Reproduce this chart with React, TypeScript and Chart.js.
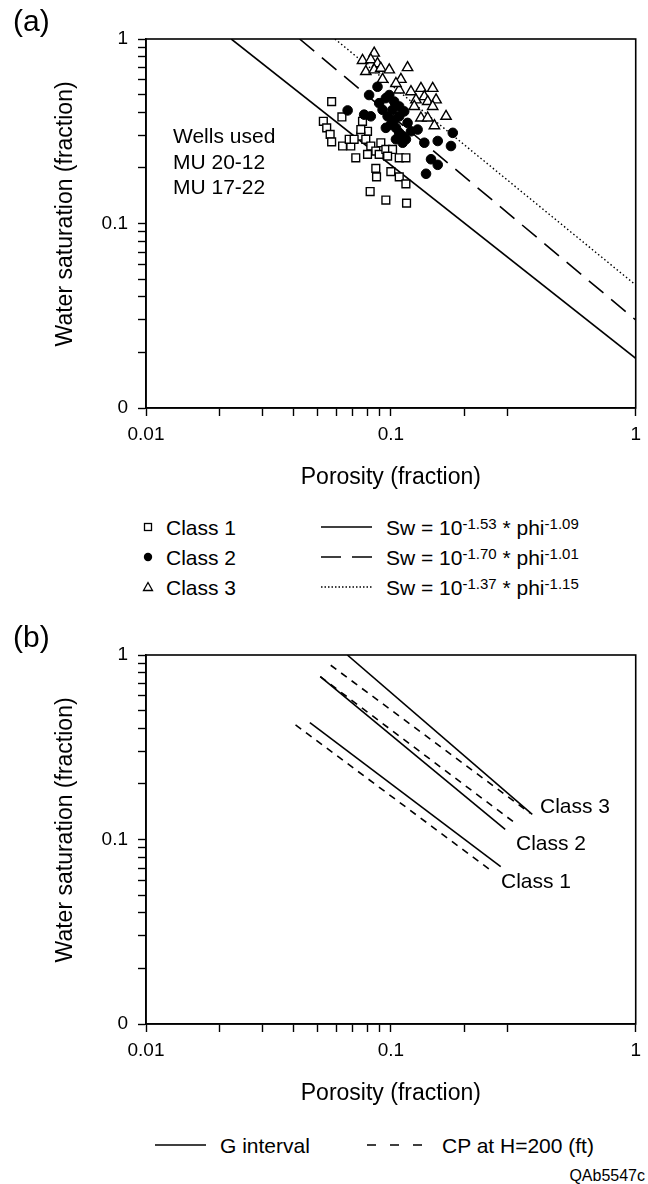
import React, { useEffect, useRef } from 'react';
import { Chart, registerables } from 'chart.js';

Chart.register(...registerables);

const FONT = "'Liberation Sans', Arial, Helvetica, sans-serif";

// ---------- axes ----------
const X_TICKS = [0.01, 0.02, 0.03, 0.04, 0.05, 0.06, 0.07, 0.08, 0.09, 0.1, 0.2, 0.3, 1];
const Y_TICKS = [0.01, 0.02, 0.03, 0.04, 0.05, 0.06, 0.07, 0.08, 0.09, 0.1, 0.2, 0.3, 0.4, 0.5, 0.6, 0.7, 0.8, 0.9, 1];
const X_LABEL_VALUES = [0.01, 0.1, 1];
const X_LABEL_TEXT = ['0.01', '0.1', '1'];
const Y_LABEL_VALUES = [0.01, 0.1, 1];
const Y_LABEL_TEXT = ['0', '0.1', '1'];

// ---------- panel (a) scatter ----------
const CLASS1_PHI = [0.0573, 0.0631, 0.053, 0.0547, 0.0565, 0.0573, 0.0635, 0.0686, 0.0676, 0.0719, 0.0766, 0.0803, 0.0754, 0.079, 0.0828, 0.0868, 0.091, 0.0896, 0.0803, 0.0954, 0.0868, 0.0874, 0.1, 0.1082, 0.1152, 0.0823, 0.0954, 0.1159, 0.1082, 0.1152, 0.1016, 0.0754, 0.0708, 0.097];
const CLASS1_SW = [0.458, 0.378, 0.358, 0.33, 0.304, 0.277, 0.263, 0.263, 0.286, 0.227, 0.358, 0.316, 0.298, 0.286, 0.263, 0.247, 0.274, 0.237, 0.237, 0.252, 0.199, 0.179, 0.191, 0.179, 0.164, 0.149, 0.134, 0.129, 0.227, 0.227, 0.252, 0.323, 0.286, 0.232];

const CLASS2_PHI = [0.0666, 0.0815, 0.0882, 0.0778, 0.0828, 0.0896, 0.0954, 0.0985, 0.1032, 0.0925, 0.097, 0.1016, 0.1082, 0.1082, 0.1134, 0.1, 0.1049, 0.1082, 0.1117, 0.1152, 0.1049, 0.1208, 0.1286, 0.1117, 0.137, 0.1554, 0.179, 0.176, 0.1459, 0.1554, 0.1392, 0.0954, 0.1032, 0.117];
const CLASS2_SW = [0.41, 0.497, 0.551, 0.389, 0.381, 0.449, 0.478, 0.497, 0.458, 0.413, 0.381, 0.413, 0.431, 0.381, 0.405, 0.344, 0.33, 0.31, 0.298, 0.286, 0.286, 0.316, 0.323, 0.274, 0.274, 0.28, 0.31, 0.263, 0.223, 0.208, 0.186, 0.33, 0.365, 0.351];

const CLASS3_PHI = [0.0855, 0.0766, 0.0828, 0.0882, 0.079, 0.0855, 0.091, 0.0985, 0.117, 0.1099, 0.0925, 0.1082, 0.1208, 0.1327, 0.1482, 0.137, 0.1266, 0.1414, 0.153, 0.1246, 0.1482, 0.1327, 0.1414, 0.168, 0.1506, 0.1049];
const CLASS3_SW = [0.838, 0.765, 0.772, 0.735, 0.666, 0.68, 0.694, 0.68, 0.7, 0.604, 0.604, 0.529, 0.518, 0.54, 0.54, 0.487, 0.468, 0.458, 0.468, 0.431, 0.431, 0.373, 0.373, 0.381, 0.339, 0.574];

// ---------- panel (a) fitted lines (endpoints) ----------
const A_SOLID_PHI = [0.0223, 1];
const A_SOLID_SW = [1, 0.0186];
const A_DASH_PHI = [0.0424, 1];
const A_DASH_SW = [1, 0.03];
const A_DOT_PHI = [0.0591, 1];
const A_DOT_SW = [1, 0.0464];

// ---------- panel (b) lines: [class1, class2, class3] ----------
const B_G_PHI = [[0.0467, 0.281], [0.0515, 0.293], [0.0664, 0.378]];
const B_G_SW = [[0.43, 0.0713], [0.763, 0.1136], [1.0, 0.137]];
const B_CP_PHI = [[0.0408, 0.26], [0.0515, 0.329], [0.0568, 0.37]];
const B_CP_SW = [[0.418, 0.067], [0.763, 0.12], [0.88, 0.139]];

const toPts = (xs: number[], ys: number[]) => xs.map((x, i) => ({ x, y: ys[i] }));

function labelFor(values: number[], texts: string[], v: number) {
  const i = values.findIndex((t) => Math.abs(t - v) < 1e-9);
  return i >= 0 ? texts[i] : '';
}

const framePlugin = {
  id: 'frame',
  afterDraw(chart: any) {
    const { ctx, chartArea: a } = chart;
    ctx.save();
    ctx.strokeStyle = '#000';
    ctx.lineWidth = 1.6;
    ctx.strokeRect(a.left, a.top, a.right - a.left, a.bottom - a.top);
    ctx.restore();
  },
};

function makeOptions(): any {
  return {
    responsive: false,
    maintainAspectRatio: false,
    animation: false,
    devicePixelRatio: 1,
    layout: { padding: { top: 39, right: 12, left: 0, bottom: 0 } },
    plugins: { legend: { display: false }, tooltip: { enabled: false } },
    scales: {
      x: {
        type: 'logarithmic',
        position: 'bottom',
        min: 0.01,
        max: 1,
        afterBuildTicks: (s: any) => {
          s.ticks = X_TICKS.map((v) => ({ value: v }));
        },
        afterFit: (s: any) => {
          s.height = 92;
        },
        ticks: {
          autoSkip: false,
          maxRotation: 0,
          minRotation: 0,
          padding: 7,
          color: '#000',
          font: { family: FONT, size: 19 },
          callback: (v: any) => labelFor(X_LABEL_VALUES, X_LABEL_TEXT, Number(v)),
        },
        grid: { display: true, drawOnChartArea: false, drawTicks: true, tickLength: 8, tickColor: '#000', tickWidth: 1.4 },
        border: { display: true, color: '#000', width: 1.6 },
        title: {
          display: true,
          text: 'Porosity (fraction)',
          color: '#000',
          font: { family: FONT, size: 23 },
          padding: { top: 0, bottom: 9 },
        },
      },
      y: {
        type: 'logarithmic',
        position: 'left',
        min: 0.01,
        max: 1,
        afterBuildTicks: (s: any) => {
          s.ticks = Y_TICKS.map((v) => ({ value: v }));
        },
        afterFit: (s: any) => {
          s.width = 146;
        },
        ticks: {
          autoSkip: false,
          padding: 10,
          color: '#000',
          font: { family: FONT, size: 19 },
          callback: (v: any) => labelFor(Y_LABEL_VALUES, Y_LABEL_TEXT, Number(v)),
        },
        grid: { display: true, drawOnChartArea: false, drawTicks: true, tickLength: 8, tickColor: '#000', tickWidth: 1.4 },
        border: { display: true, color: '#000', width: 1.6 },
        title: {
          display: true,
          text: '\u00A0\u00A0\u00A0Water saturation (fraction)',
          color: '#000',
          font: { family: FONT, size: 23 },
          padding: { top: 52, bottom: 0 },
        },
      },
    },
  };
}

const lineDs = (pts: any[], dash: number[], width = 1.6, order = 10) => ({
  data: pts,
  showLine: true,
  pointRadius: 0,
  borderColor: '#000',
  borderWidth: width,
  borderDash: dash,
  fill: false,
  order,
});

function PanelA() {
  const ref = useRef<HTMLCanvasElement>(null);
  useEffect(() => {
    if (!ref.current) return;
    const chart = new Chart(ref.current, {
      type: 'scatter',
      data: {
        datasets: [
          {
            data: toPts(CLASS2_PHI, CLASS2_SW),
            pointStyle: 'circle',
            pointRadius: 4.8,
            backgroundColor: '#000',
            borderColor: '#000',
            borderWidth: 1,
            order: 1,
          },
          {
            data: toPts(CLASS3_PHI, CLASS3_SW),
            pointStyle: 'triangle',
            pointRadius: 6,
            backgroundColor: '#fff',
            borderColor: '#000',
            borderWidth: 1.4,
            order: 2,
          },
          {
            data: toPts(CLASS1_PHI, CLASS1_SW),
            pointStyle: 'rect',
            pointRadius: 5.5,
            backgroundColor: '#fff',
            borderColor: '#000',
            borderWidth: 1.4,
            order: 3,
          },
          lineDs(toPts(A_SOLID_PHI, A_SOLID_SW), []),
          lineDs(toPts(A_DASH_PHI, A_DASH_SW), [19, 10]),
          lineDs(toPts(A_DOT_PHI, A_DOT_SW), [1.5, 2.5], 1.4),
        ],
      } as any,
      options: makeOptions(),
      plugins: [framePlugin],
    });
    return () => chart.destroy();
  }, []);
  return <canvas ref={ref} width={648} height={500} style={{ position: 'absolute', left: 0, top: 0, display: 'block' }} />;
}

function PanelB() {
  const ref = useRef<HTMLCanvasElement>(null);
  useEffect(() => {
    if (!ref.current) return;
    const ds: any[] = [];
    for (let i = 0; i < 3; i++) {
      ds.push(lineDs(toPts(B_G_PHI[i], B_G_SW[i]), []));
      ds.push(lineDs(toPts(B_CP_PHI[i], B_CP_SW[i]), [7, 6]));
    }
    const chart = new Chart(ref.current, {
      type: 'scatter',
      data: { datasets: ds } as any,
      options: makeOptions(),
      plugins: [framePlugin],
    });
    return () => chart.destroy();
  }, []);
  return <canvas ref={ref} width={648} height={500} style={{ position: 'absolute', left: 0, top: 616, display: 'block' }} />;
}

function T(props: { x: number; y: number; size: number; children: any; right?: boolean }) {
  const lh = Math.round(props.size * 1.2);
  const style: any = {
    position: 'absolute',
    top: props.y - lh / 2,
    fontSize: props.size,
    lineHeight: lh + 'px',
    fontFamily: FONT,
    color: '#000',
    whiteSpace: 'nowrap',
  };
  if (props.right) style.right = 648 - props.x;
  else style.left = props.x;
  return <div style={style}>{props.children}</div>;
}

function LineSample(props: { x1: number; x2: number; y: number; dash?: string; w?: number }) {
  const w = props.x2 - props.x1;
  return (
    <svg style={{ position: 'absolute', left: props.x1, top: props.y - 3 }} width={w} height={6}>
      <line x1={0} y1={3} x2={w} y2={3} stroke="#000" strokeWidth={props.w || 1.6} strokeDasharray={props.dash} />
    </svg>
  );
}

function Marker(props: { kind: 'square' | 'circle' | 'triangle'; x: number; y: number }) {
  const s = 12;
  let shape: any;
  if (props.kind === 'square') shape = <rect x={2.5} y={2.5} width={7} height={7} fill="#fff" stroke="#000" strokeWidth={1.3} />;
  else if (props.kind === 'circle') shape = <circle cx={6} cy={6} r={4.2} fill="#000" />;
  else shape = <polygon points="6,1.5 10.5,9.5 1.5,9.5" fill="#fff" stroke="#000" strokeWidth={1.3} />;
  return (
    <svg style={{ position: 'absolute', left: props.x - s / 2, top: props.y - s / 2 }} width={s} height={s}>
      {shape}
    </svg>
  );
}

function Eq(props: { a: string; b: string }) {
  const sup: any = { fontSize: 15, verticalAlign: 'top', position: 'relative', top: -4 };
  return (
    <span>
      Sw = 10<span style={sup}>{props.a}</span> * phi<span style={sup}>{props.b}</span>
    </span>
  );
}

export default function App() {
  return (
    <div style={{ position: 'absolute', left: 0, top: 0, width: 648, height: 1184, background: '#fff', overflow: 'hidden' }}>
      <PanelA />
      <PanelB />
      <T x={13} y={21} size={30}>(a)</T>
      <T x={13} y={637} size={30}>(b)</T>

      <T x={173} y={135} size={21}>Wells used</T>
      <T x={173} y={161} size={21}>MU 20-12</T>
      <T x={173} y={186} size={21}>MU 17-22</T>

      <Marker kind="square" x={148} y={527} />
      <Marker kind="circle" x={148} y={557} />
      <Marker kind="triangle" x={148} y={587} />
      <T x={166} y={527} size={21}>Class 1</T>
      <T x={166} y={557} size={21}>Class 2</T>
      <T x={166} y={587} size={21}>Class 3</T>
      <LineSample x1={321} x2={372} y={527} />
      <LineSample x1={321} x2={372} y={557} dash="20,11" />
      <LineSample x1={321} x2={372} y={587} dash="1.5,2" w={1.3} />
      <T x={386} y={527} size={21}><Eq a="-1.53" b="-1.09" /></T>
      <T x={386} y={557} size={21}><Eq a="-1.70" b="-1.01" /></T>
      <T x={386} y={587} size={21}><Eq a="-1.37" b="-1.15" /></T>

      <T x={540} y={805} size={21}>Class 3</T>
      <T x={516} y={842} size={21}>Class 2</T>
      <T x={501} y={880} size={21}>Class 1</T>

      <LineSample x1={155} x2={206} y={1145} />
      <T x={220} y={1145} size={21}>G interval</T>
      <LineSample x1={367} x2={428} y={1145} dash="9,14" />
      <T x={442} y={1145} size={21}>CP at H=200 (ft)</T>
      <T x={645} y={1175} size={16} right>QAb5547c</T>
    </div>
  );
}
